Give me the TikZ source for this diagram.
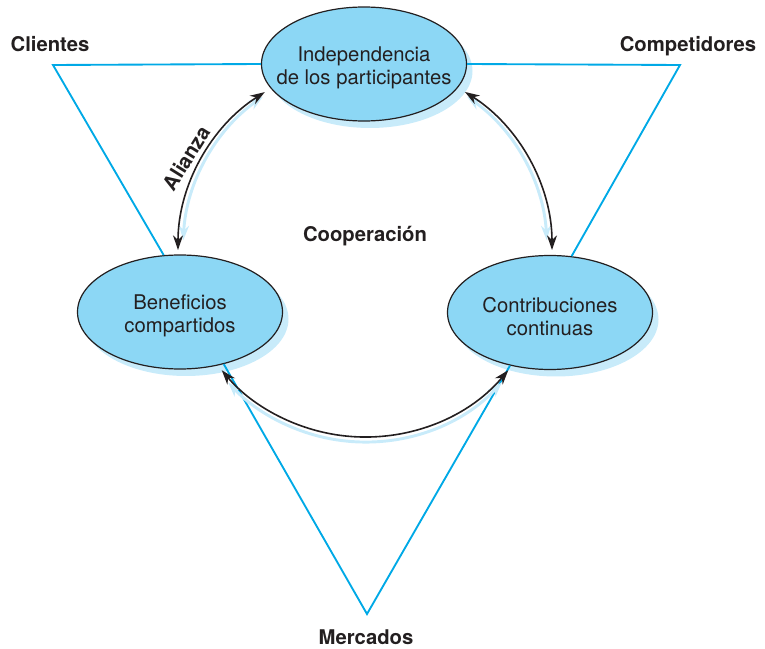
\documentclass[tikz,border=0pt]{standalone}
\usepackage{fontspec}
\setmainfont{TeX Gyre Heros}
\usetikzlibrary{shapes.geometric,arrows.meta,shadows}
\definecolor{bubblefill}{HTML}{8CD7F5}
\definecolor{bubbleshade}{HTML}{C8EBFA}
\definecolor{edgecyan}{HTML}{00A9E6}
\definecolor{inkgray}{HTML}{231F20}
\begin{document}
\begin{tikzpicture}[x=0.75pt,y=-0.75pt,
  bubble/.style={ellipse, draw=inkgray, line width=0.9pt, fill=bubblefill,
    minimum width=153.75pt, minimum height=85.5pt, inner sep=0pt,
    general shadow={fill=bubbleshade, shadow xshift=4.5pt, shadow yshift=-5.25pt}},
  bubbletext/.style={align=center, text=inkgray, inner sep=0pt, yshift=-3pt,
    font=\fontsize{15.2}{17.3}\selectfont},
  tagbold/.style={text=inkgray, inner sep=0pt, font=\bfseries\fontsize{15.2}{18}\selectfont},
  tri/.style={draw=edgecyan, line width=1.4pt},
  link/.style={draw=inkgray, line width=1.2pt,
    {Stealth[length=11pt,width=7.5pt]}-{Stealth[length=11pt,width=7.5pt]}},
  linkshade/.style={draw=bubbleshade, line width=2.2pt,
    {Stealth[length=11pt,width=7.5pt]}-{Stealth[length=11pt,width=7.5pt]}}
]
\useasboundingbox (0,0) rectangle (765,649);

% the three partnership ellipses
\node[bubble] (ind) at (364,64) {};
\node[bubbletext] (indt) at (ind) {Independencia\\de los participantes};
\node[bubble] (ben) at (180,312) {};
\node[bubbletext] (bent) at (ben) {Beneficios\\compartidos};
\node[bubble] (con) at (550,312.5) {};
\node[bubbletext] (cont) at (con) {Contribuciones\\continuas};

% outer triangle corners
\coordinate (cl) at (53,65);
\coordinate (co) at (680,65);
\coordinate (me) at (367,614);

\draw[tri] (ind.west) -- (cl) -- (ben.106);
\draw[tri] (ind.east) -- (co) -- (con.69);
\draw[tri] (ben.-50) -- (me) -- (con.233);

% cycle arrows with their pale shadows
\coordinate (hub) at (365,250);
\coordinate (hubL) at (370,250);
\coordinate (hubR) at (360,250);
\coordinate (hubB) at (365,255);

\draw[linkshade] ([shift={(183:187)}]hubL) arc[start angle=183, end angle=235, radius=187];
\draw[linkshade] ([shift={(305:187)}]hubR) arc[start angle=305, end angle=357, radius=187];
\draw[linkshade] ([shift={(43:187)}]hubB) arc[start angle=43, end angle=137, radius=187];

\draw[link] ([shift={(180:187)}]hub) arc[start angle=180, end angle=237.6, radius=187];
\draw[link] ([shift={(302.3:187)}]hub) arc[start angle=302.3, end angle=360, radius=187];
\draw[link] ([shift={(40:187)}]hub) arc[start angle=40, end angle=140, radius=187];

% labels
\node[tagbold, anchor=base] (clt) at (50,52) {Clientes};
\node[tagbold, anchor=base] (cot) at (688,52) {Competidores};
\node[tagbold, anchor=base] (met) at (366,644) {Mercados};
\node[tagbold, anchor=base] (coop) at (365,242) {Cooperación};
\node[tagbold, rotate=58] (ali) at (186,158) {Alianza};
\end{tikzpicture}
\end{document}
